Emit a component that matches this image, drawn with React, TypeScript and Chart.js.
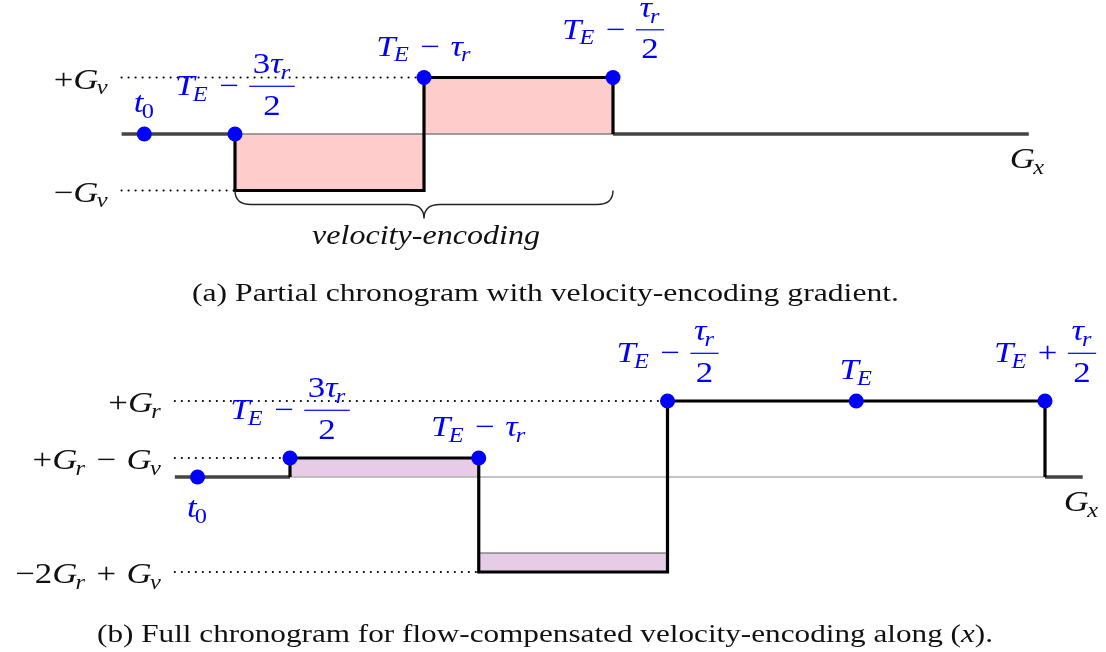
import React, { useEffect, useRef } from "react";
import { Chart, registerables } from "chart.js";

Chart.register(...registerables);

// ---------------- Panel (a) data ----------------
const aStart = -0.6;
const aEnd = 4.2;
const aPulseX = [0, 0, 1, 1, 2, 2];
const aPulseY = [0, -1, -1, 1, 1, 0];
const aMarkerX = [-0.48, 0, 1, 2];
const aMarkerY = [0, 0, 1, 1];
const aMarkerLabels = ["t_0", "T_E − \\frac{3τ_r}{2}", "T_E − τ_r", "T_E − \\frac{τ_r}{2}"];
const aMarkerSides = ["above", "above", "above", "above"];
const aLevelValues = [1, -1];
const aLevelLabels = ["+G_v", "−G_v"];
const aLevelEnds = [1, 0];
const aFillStart = [0, 1];
const aFillEnd = [1, 2];
const aFillBase = [0, 0];
const aFillTop = [-1, 1];
const aAxisLabel = "G_x";
const aBraceText = "velocity-encoding";
const aCaptionRuns = [{ t: "(a) Partial chronogram with velocity-encoding gradient.", it: false }];

// ---------------- Panel (b) data ----------------
const bStart = -0.61;
const bEnd = 4.2;
const bPulseX = [0, 0, 1, 1, 2, 2, 4, 4];
const bPulseY = [0, 1, 1, -5, -5, 4, 4, 0];
const bMarkerX = [-0.49, 0, 1, 2, 3, 4];
const bMarkerY = [0, 1, 1, 4, 4, 4];
const bMarkerLabels = [
  "t_0",
  "T_E − \\frac{3τ_r}{2}",
  "T_E − τ_r",
  "T_E − \\frac{τ_r}{2}",
  "T_E",
  "T_E + \\frac{τ_r}{2}",
];
const bMarkerSides = ["below", "above", "above", "above", "above", "above"];
const bLevelValues = [4, 1, -5];
const bLevelLabels = ["+G_r", "+G_r − G_v", "−2G_r + G_v"];
const bLevelEnds = [2, 0, 1];
const bFillStart = [0, 1];
const bFillEnd = [1, 2];
const bFillBase = [0, -5];
const bFillTop = [1, -4];
const bAxisLabel = "G_x";
const bCaptionRuns = [
  { t: "(b) Full chronogram for flow-compensated velocity-encoding along (", it: false },
  { t: "x", it: true },
  { t: ").", it: false },
];

// ---------------- math text rendering ----------------
const SERIF = '"Liberation Serif", "DejaVu Serif", serif';
const MATH_SIZE = 29;
const MATH_STRETCH = 1.2;
const OP_SPACE = 0.3;

type Item =
  | { k: "s"; t: string; it: boolean; op: boolean }
  | { k: "sub"; items: Item[] }
  | { k: "frac"; num: Item[]; den: Item[] };

function parseMath(s: string): Item[] {
  const out: Item[] = [];
  let i = 0;
  const readGroup = (): string => {
    if (s[i] === "{") {
      let depth = 1;
      let j = i + 1;
      while (j < s.length && depth > 0) {
        if (s[j] === "{") depth++;
        else if (s[j] === "}") depth--;
        j++;
      }
      const g = s.slice(i + 1, j - 1);
      i = j;
      return g;
    }
    const c = s[i];
    i++;
    return c;
  };
  while (i < s.length) {
    if (s.startsWith("\\frac", i)) {
      i += 5;
      const a = readGroup();
      const b = readGroup();
      out.push({ k: "frac", num: parseMath(a), den: parseMath(b) });
      continue;
    }
    const c = s[i];
    if (c === "_") {
      i++;
      out.push({ k: "sub", items: parseMath(readGroup()) });
      continue;
    }
    if (c === " ") {
      i++;
      continue;
    }
    i++;
    if ("+−=-".includes(c)) out.push({ k: "s", t: c === "-" ? "−" : c, it: false, op: true });
    else if (/[0-9().,]/.test(c)) out.push({ k: "s", t: c, it: false, op: false });
    else out.push({ k: "s", t: c, it: true, op: false });
  }
  return out;
}

function renderMath(ctx: CanvasRenderingContext2D, items: Item[], x: number, y: number, size: number, draw: boolean): number {
  let w = 0;
  items.forEach((it, idx) => {
    if (it.k === "s") {
      ctx.font = `${it.it ? "italic " : ""}${size}px ${SERIF}`;
      const sp = it.op && idx > 0 ? size * OP_SPACE : 0;
      w += sp;
      const tw = ctx.measureText(it.t).width;
      if (draw) ctx.fillText(it.t, x + w, y);
      w += tw + sp;
    } else if (it.k === "sub") {
      const prev = items[idx - 1];
      if (prev && prev.k === "s" && prev.it) w -= size * 0.05;
      const sw = renderMath(ctx, it.items, x + w, y + size * 0.2, size * 0.7, draw);
      w += sw + size * 0.03;
    } else {
      const nw = renderMath(ctx, it.num, 0, 0, size, false);
      const dw = renderMath(ctx, it.den, 0, 0, size, false);
      const pad = size * 0.1;
      const fw = Math.max(nw, dw) + 2 * pad;
      const axis = y - size * 0.3;
      if (draw) {
        renderMath(ctx, it.num, x + w + (fw - nw) / 2, axis - size * 0.45, size, true);
        renderMath(ctx, it.den, x + w + (fw - dw) / 2, axis + size * 0.98, size, true);
        ctx.fillRect(x + w, axis - 0.6, fw, 1.2);
      }
      w += fw;
    }
  });
  return w;
}

function drawMath(ctx: CanvasRenderingContext2D, str: string, x: number, y: number, align: string, color: string) {
  const items = parseMath(str);
  const w = renderMath(ctx, items, 0, 0, MATH_SIZE, false) * MATH_STRETCH;
  const left = align === "center" ? x - w / 2 : align === "right" ? x - w : x;
  ctx.save();
  ctx.translate(left, y);
  ctx.scale(MATH_STRETCH, 1);
  ctx.fillStyle = color;
  ctx.textAlign = "left";
  ctx.textBaseline = "alphabetic";
  renderMath(ctx, items, 0, 0, MATH_SIZE, true);
  ctx.restore();
}

type Run = { t: string; it: boolean };

function drawRuns(ctx: CanvasRenderingContext2D, runs: Run[], cx: number, baseline: number, width: number, size: number, color: string) {
  let total = 0;
  const ws = runs.map((r) => {
    ctx.font = `${r.it ? "italic " : ""}${size}px ${SERIF}`;
    const m = ctx.measureText(r.t).width;
    total += m;
    return m;
  });
  const sx = width / total;
  ctx.save();
  ctx.translate(cx - width / 2, baseline);
  ctx.scale(sx, 1);
  ctx.fillStyle = color;
  ctx.textAlign = "left";
  ctx.textBaseline = "alphabetic";
  let xx = 0;
  runs.forEach((r, i) => {
    ctx.font = `${r.it ? "italic " : ""}${size}px ${SERIF}`;
    ctx.fillText(r.t, xx, 0);
    xx += ws[i];
  });
  ctx.restore();
}

// ---------------- panel builder ----------------
interface Panel {
  height: number;
  xZeroPx: number;
  xUnitPx: number;
  yZeroPx: number;
  yUnitPx: number;
  start: number;
  end: number;
  pulseX: number[];
  pulseY: number[];
  markerX: number[];
  markerY: number[];
  markerLabels: string[];
  markerSides: string[];
  levelValues: number[];
  levelLabels: string[];
  levelEnds: number[];
  fillStart: number[];
  fillEnd: number[];
  fillBase: number[];
  fillTop: number[];
  fillColor: string;
  axisColor: string;
  axisLabel: string;
  brace?: { text: string; from: number; to: number; y: number };
  caption: { runs: Run[]; cx: number; width: number; baseline: number };
}

const WIDTH = 1106;

function makePlugin(p: Panel) {
  return {
    id: "diagramLabels",
    afterDatasetsDraw(chart: any) {
      const ctx: CanvasRenderingContext2D = chart.ctx;
      const xs = chart.scales.x;
      const ys = chart.scales.y;
      ctx.save();
      p.levelValues.forEach((v, i) => {
        drawMath(ctx, p.levelLabels[i], xs.getPixelForValue(p.start) - 13, ys.getPixelForValue(v) + 11, "right", "#111");
      });
      p.markerX.forEach((mx, i) => {
        const px = xs.getPixelForValue(mx);
        const py = ys.getPixelForValue(p.markerY[i]);
        const lab = p.markerLabels[i];
        const hasFrac = lab.includes("\\frac");
        const base = p.markerSides[i] === "below" ? py + 40 : py - (hasFrac ? 39 : 22);
        drawMath(ctx, lab, px, base, "center", "#0000ff");
      });
      drawMath(ctx, p.axisLabel, xs.getPixelForValue(p.end) - 19, ys.getPixelForValue(0) + 34, "left", "#111");
      if (p.brace) {
        const x0 = xs.getPixelForValue(p.brace.from);
        const x1 = xs.getPixelForValue(p.brace.to);
        const xm = (x0 + x1) / 2;
        const y0 = ys.getPixelForValue(p.brace.y);
        const y1 = y0 + 14;
        const y2 = y0 + 28;
        const r = 16;
        ctx.beginPath();
        ctx.moveTo(x0, y0);
        ctx.quadraticCurveTo(x0, y1, x0 + r, y1);
        ctx.lineTo(xm - r, y1);
        ctx.quadraticCurveTo(xm, y1, xm, y2);
        ctx.quadraticCurveTo(xm, y1, xm + r, y1);
        ctx.lineTo(x1 - r, y1);
        ctx.quadraticCurveTo(x1, y1, x1, y0);
        ctx.strokeStyle = "#222";
        ctx.lineWidth = 1.4;
        ctx.stroke();
        drawRuns(ctx, [{ t: p.brace.text, it: true }], xm + 2, y0 + 53, 228, 28, "#111");
      }
      drawRuns(ctx, p.caption.runs, p.caption.cx, p.caption.baseline, p.caption.width, 26, "#111");
      ctx.restore();
    },
  };
}

function makeConfig(p: Panel): any {
  const datasets: any[] = [];
  p.fillStart.forEach((s, i) => {
    datasets.push({
      data: [
        { x: s, y: p.fillTop[i] },
        { x: p.fillEnd[i], y: p.fillTop[i] },
      ],
      fill: { value: p.fillBase[i] },
      backgroundColor: p.fillColor,
      borderColor: "#555",
      borderWidth: 1,
      pointRadius: 0,
      order: 6,
    });
  });
  datasets.push({
    data: [
      { x: p.pulseX[0], y: 0 },
      { x: p.pulseX[p.pulseX.length - 1], y: 0 },
    ],
    borderColor: p.axisColor,
    borderWidth: 1.5,
    pointRadius: 0,
    fill: false,
    order: 5,
  });
  p.levelValues.forEach((v, i) => {
    datasets.push({
      data: [
        { x: p.start, y: v },
        { x: p.levelEnds[i], y: v },
      ],
      borderColor: "#000",
      borderWidth: 2.2,
      borderDash: [0, 7],
      borderCapStyle: "round",
      pointRadius: 0,
      fill: false,
      order: 4,
    });
  });
  datasets.push({
    data: [
      { x: p.start, y: 0 },
      { x: p.pulseX[0], y: 0 },
    ],
    borderColor: "#444",
    borderWidth: 3.4,
    pointRadius: 0,
    fill: false,
    order: 3,
  });
  datasets.push({
    data: [
      { x: p.pulseX[p.pulseX.length - 1], y: 0 },
      { x: p.end, y: 0 },
    ],
    borderColor: "#444",
    borderWidth: 3.4,
    pointRadius: 0,
    fill: false,
    order: 3,
  });
  datasets.push({
    data: p.pulseX.map((x, i) => ({ x, y: p.pulseY[i] })),
    borderColor: "#000",
    borderWidth: 3.2,
    borderJoinStyle: "miter",
    borderCapStyle: "butt",
    pointRadius: 0,
    fill: false,
    order: 2,
  });
  datasets.push({
    data: p.markerX.map((x, i) => ({ x, y: p.markerY[i] })),
    showLine: false,
    pointRadius: 7.5,
    pointBackgroundColor: "#0000ff",
    pointBorderWidth: 0,
    borderColor: "#0000ff",
    fill: false,
    order: 1,
  });

  return {
    type: "line",
    data: { datasets },
    options: {
      responsive: false,
      animation: false,
      events: [],
      layout: { padding: 0, autoPadding: false },
      plugins: { legend: { display: false }, tooltip: { enabled: false }, title: { display: false } },
      elements: { line: { tension: 0 } },
      scales: {
        x: {
          type: "linear",
          display: false,
          min: -p.xZeroPx / p.xUnitPx,
          max: (WIDTH - p.xZeroPx) / p.xUnitPx,
        },
        y: {
          type: "linear",
          display: false,
          min: -(p.height - p.yZeroPx) / p.yUnitPx,
          max: p.yZeroPx / p.yUnitPx,
        },
      },
    },
    plugins: [makePlugin(p)],
  };
}

const PANEL_H = 326;

const panelA: Panel = {
  height: PANEL_H,
  xZeroPx: 235,
  xUnitPx: 189,
  yZeroPx: 134,
  yUnitPx: 56.5,
  start: aStart,
  end: aEnd,
  pulseX: aPulseX,
  pulseY: aPulseY,
  markerX: aMarkerX,
  markerY: aMarkerY,
  markerLabels: aMarkerLabels,
  markerSides: aMarkerSides,
  levelValues: aLevelValues,
  levelLabels: aLevelLabels,
  levelEnds: aLevelEnds,
  fillStart: aFillStart,
  fillEnd: aFillEnd,
  fillBase: aFillBase,
  fillTop: aFillTop,
  fillColor: "#ffcccc",
  axisColor: "#808080",
  axisLabel: aAxisLabel,
  brace: { text: aBraceText, from: 0, to: 2, y: -1 },
  caption: { runs: aCaptionRuns, cx: 545.5, width: 707, baseline: 301 },
};

const panelB: Panel = {
  height: PANEL_H,
  xZeroPx: 290,
  xUnitPx: 188.75,
  yZeroPx: 477 - PANEL_H,
  yUnitPx: 19,
  start: bStart,
  end: bEnd,
  pulseX: bPulseX,
  pulseY: bPulseY,
  markerX: bMarkerX,
  markerY: bMarkerY,
  markerLabels: bMarkerLabels,
  markerSides: bMarkerSides,
  levelValues: bLevelValues,
  levelLabels: bLevelLabels,
  levelEnds: bLevelEnds,
  fillStart: bFillStart,
  fillEnd: bFillEnd,
  fillBase: bFillBase,
  fillTop: bFillTop,
  fillColor: "#e6cce6",
  axisColor: "#b0b0b0",
  axisLabel: bAxisLabel,
  caption: { runs: bCaptionRuns, cx: 545, width: 896, baseline: 642 - PANEL_H },
};

function PanelCanvas({ panel, top }: { panel: Panel; top: number }) {
  const ref = useRef<HTMLCanvasElement | null>(null);
  useEffect(() => {
    let chart: Chart | null = null;
    let cancelled = false;
    const build = () => {
      if (cancelled || !ref.current) return;
      chart = new Chart(ref.current, makeConfig(panel));
    };
    const fonts: any = (document as any).fonts;
    if (fonts && fonts.load) {
      Promise.all([
        fonts.load('28px "Liberation Serif"'),
        fonts.load('italic 28px "Liberation Serif"'),
      ])
        .catch(() => null)
        .then(build);
    } else {
      build();
    }
    return () => {
      cancelled = true;
      if (chart) chart.destroy();
    };
  }, [panel]);
  return (
    <canvas
      ref={ref}
      width={WIDTH}
      height={panel.height}
      style={{ position: "absolute", left: 0, top, width: WIDTH, height: panel.height, display: "block" }}
    />
  );
}

export default function App() {
  return (
    <div style={{ position: "absolute", left: 0, top: 0, width: WIDTH, height: 652, background: "#fff", overflow: "hidden" }}>
      <PanelCanvas panel={panelA} top={0} />
      <PanelCanvas panel={panelB} top={PANEL_H} />
    </div>
  );
}
